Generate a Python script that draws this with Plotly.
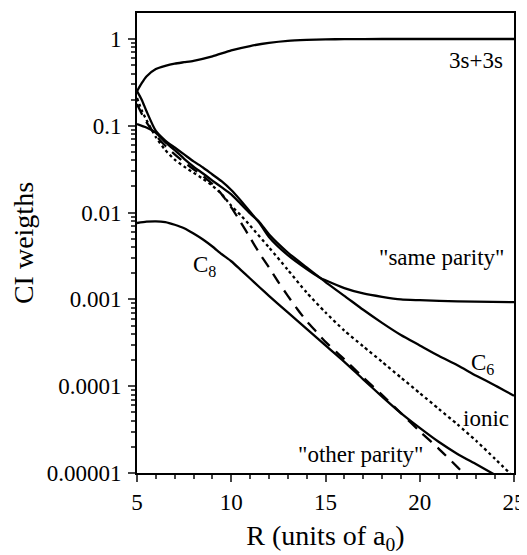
import plotly.graph_objects as go

# ---- data ----
r_3s = [5, 5.25, 5.5, 6, 6.5, 7, 7.5, 8, 9, 10, 11, 12, 13, 14, 15, 16, 18, 20, 25]
w_3s = [0.25, 0.31, 0.37, 0.45, 0.49, 0.52, 0.54, 0.56, 0.63, 0.74, 0.83, 0.90, 0.95, 0.975, 0.99, 0.995, 1.0, 1.0, 1.0]

r_same = [5, 5.25, 5.5, 6, 6.5, 7, 7.5, 8, 8.5, 9, 9.5, 10, 10.5, 11, 11.5, 12, 13, 14, 14.7, 15, 16, 17, 18, 19, 20, 22, 25]
w_same = [0.251, 0.200, 0.148, 0.0871, 0.0676, 0.0562, 0.0468, 0.0389, 0.0331, 0.0275, 0.0229, 0.0182,
          0.0138, 0.0102, 0.00759, 0.00525, 0.00324, 0.00224, 0.00178, 0.00166, 0.00135, 0.00117,
          0.00107, 0.00100, 0.00098, 0.00095, 0.00093]

r_c6 = [5, 5.5, 6, 6.5, 7, 7.5, 8, 8.5, 9, 9.5, 10, 10.5, 11, 11.5, 12, 13, 14, 14.7, 15, 16, 17, 18, 19, 20, 21, 22, 23, 24, 25]
w_c6 = [0.105, 0.0955, 0.0832, 0.0646, 0.0525, 0.0417, 0.0339, 0.0282, 0.0234, 0.0195, 0.0162, 0.0126,
        0.00977, 0.00776, 0.00562, 0.00347, 0.00234, 0.00178, 0.00158, 0.00110, 0.000759, 0.000537,
        0.000389, 0.000295, 0.000224, 0.000174, 0.000132, 0.000102, 0.0000776]

r_ionic = [5, 5.25, 5.5, 6, 6.5, 7, 7.5, 8, 8.5, 9, 9.5, 10, 10.5, 11, 12, 13, 14, 15, 16, 17, 18, 19, 20, 21, 22, 23, 24, 25]
w_ionic = [0.209, 0.151, 0.117, 0.0741, 0.0525, 0.0407, 0.0339, 0.0288, 0.0245, 0.0204, 0.0162, 0.0120,
           0.00933, 0.00708, 0.00398, 0.00219, 0.00120, 0.000708, 0.000437, 0.000288, 0.000191,
           0.000126, 0.0000832, 0.0000550, 0.0000363, 0.0000234, 0.0000145, 0.0000089]

r_other = [5, 5.25, 5.5, 6, 6.5, 7, 7.5, 8, 8.5, 9, 9.5, 10, 10.5, 11, 11.5, 12, 12.5, 13, 13.5, 14, 14.5, 15,
           15.6, 16, 17, 18, 19, 20, 21, 22, 22.5]
w_other = [0.178, 0.138, 0.110, 0.0776, 0.0589, 0.0468, 0.0380, 0.0316, 0.0263, 0.0214, 0.0162, 0.0115,
           0.00776, 0.00513, 0.00339, 0.00234, 0.00158, 0.00110, 0.000776, 0.000562, 0.000427, 0.000324,
           0.000245, 0.000204, 0.000126, 0.0000794, 0.0000490, 0.0000302, 0.0000191, 0.0000117, 0.0000091]

r_c8 = [5, 5.5, 6, 6.5, 7, 7.5, 8, 8.5, 9, 9.5, 10, 10.5, 11, 11.5, 12, 13, 14, 15, 16, 17, 18, 19, 20, 21, 22, 23, 24]
w_c8 = [0.00759, 0.00785, 0.00794, 0.00776, 0.00724, 0.00661, 0.00575, 0.00490, 0.00407, 0.00331, 0.00275,
        0.00219, 0.00174, 0.00138, 0.00110, 0.000708, 0.000457, 0.000295, 0.000191, 0.000120, 0.0000759,
        0.0000490, 0.0000331, 0.0000229, 0.0000166, 0.0000126, 0.0000095]

x_ticks = [5, 10, 15, 20, 25]
y_ticks = [0.00001, 0.0001, 0.001, 0.01, 0.1, 1]
y_tick_text = ["0.00001", "0.0001", "0.001", "0.01", "0.1", "1"]

FONT = "Liberation Serif"

series = [
    (r_3s, w_3s, "solid"),
    (r_same, w_same, "solid"),
    (r_c6, w_c6, "solid"),
    (r_ionic, w_ionic, "3px,3px"),
    (r_other, w_other, "12px,8px"),
    (r_c8, w_c8, "solid"),
]

fig = go.Figure()
for rx, wy, dash in series:
    fig.add_trace(go.Scatter(x=rx, y=wy, mode="lines",
                             line=dict(color="black", width=2.3, dash=dash, shape="spline", smoothing=0.6),
                             showlegend=False, hoverinfo="skip"))

minor_y = [k * v for v in y_ticks[:-1] for k in range(2, 10)]

# the page body adds an 8px margin, so the figure is sized to fit the 527x555 window
fig.update_layout(
    width=519, height=547,
    margin=dict(l=129, r=13, t=5, b=82),
    paper_bgcolor="white", plot_bgcolor="white",
    font=dict(family=FONT, size=23, color="black"),
    xaxis=dict(range=[5, 25], tickvals=x_ticks, ticks="outside", ticklen=7, tickwidth=2,
               showline=True, linewidth=2, linecolor="black", mirror=True, showgrid=False, zeroline=False,
               automargin=False,
               minor=dict(dtick=1, ticks="outside", ticklen=4, tickwidth=1.5, showgrid=False),
               title=dict(text="R (units of a<sub>0</sub>)", standoff=15),
               tickfont=dict(family=FONT, size=23)),
    yaxis=dict(type="log", range=[-5, 0.2995], tickvals=y_ticks, ticktext=y_tick_text,
               ticks="outside", ticklen=7, tickwidth=2, ticklabelstandoff=2,
               showline=True, linewidth=2, linecolor="black", mirror=True, showgrid=False, zeroline=False,
               automargin=False,
               minor=dict(tickvals=minor_y, ticks="outside", ticklen=4, tickwidth=1.5, showgrid=False),
               title=dict(text="CI weigths", standoff=12),
               tickfont=dict(family=FONT, size=23)),
)

labels = [
    (22.98, -0.253, "3s+3s"),
    (21.17, -2.52, "\"same parity\""),
    (23.35, -3.74, "C<sub>6</sub>"),
    (23.5, -4.37, "ionic"),
    (16.87, -4.79, "\"other parity\""),
    (8.58, -2.62, "C<sub>8</sub>"),
]
for lx, ly, txt in labels:
    fig.add_annotation(x=lx, y=ly, xref="x", yref="y", text=txt, showarrow=False,
                       font=dict(family=FONT, size=23, color="black"))

fig.write_html("out.html")
